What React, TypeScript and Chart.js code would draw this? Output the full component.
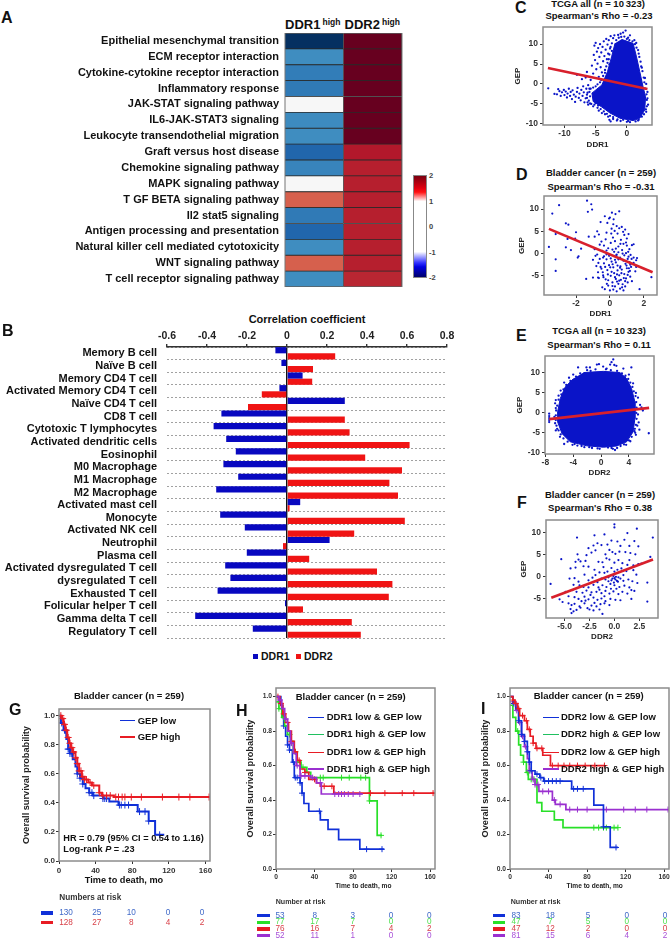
import React, { useEffect, useRef } from "react";
import { Chart, registerables } from "chart.js";

Chart.register(...registerables);

const FONT = '"Liberation Sans", Arial, sans-serif';

// ---------- Panel A ----------
const pathways = ["Epithelial mesenchymal transition","ECM receptor interaction","Cytokine-cytokine receptor interaction","Inflammatory response","JAK-STAT signaling pathway","IL6-JAK-STAT3 signaling","Leukocyte transendothelial migration","Graft versus host disease","Chemokine signaling pathway","MAPK signaling pathway","T GF BETA signaling pathway","Il2 stat5 signaling","Antigen processing and presentation","Natural killer cell mediated cytotoxicity","WNT signaling pathway","T cell receptor signaling pathway"];
const heatDDR1 = [-2, -1.25, -1.4, -1.42, 0, -1.27, -1.25, -1.6, -1.33, 0, 1.2, -1.42, -1.6, -1.25, 1.2, -1.25];
const heatDDR2 = [2, 2, 2, 2, 2, 2, 2, 1.6, 1.56, 1.56, 1.56, 1.56, 1.56, 1.56, 1.56, 1.52];
const heatStops = ["#053061","#2166ac","#4393c3","#92c5de","#d1e5f0","#f7f7f7","#fddbc7","#f4a582","#d6604d","#b2182b","#67001f"];

// ---------- Panel B ----------
const cellTypes = ["Memory B cell","Naïve B cell","Memory CD4 T cell","Activated Memory CD4 T cell","Naïve CD4 T cell","CD8 T cell","Cytotoxic T lymphocytes","Activated dendritic cells","Eosinophil","M0 Macrophage","M1 Macrophage","M2 Macrophage","Activated mast cell","Monocyte","Activated NK cell","Neutrophil","Plasma cell","Activated dysregulated T cell","dysregulated T cell","Exhausted T cell","Folicular helper T cell","Gamma delta T cell","Regulatory T cell"];
const corrDDR1 = [-0.058,-0.028,0.078,-0.038,0.289,-0.328,-0.367,-0.304,-0.256,-0.318,-0.244,-0.354,0.066,-0.334,-0.211,0.213,-0.201,-0.309,-0.283,-0.347,-0.01,-0.459,-0.171];
const corrDDR2 = [0.241,0.13,0.126,-0.126,-0.195,0.289,0.313,0.613,0.391,0.575,0.512,0.555,0.013,0.589,0.336,-0.02,0.111,0.45,0.527,0.509,0.08,0.324,0.369];
const corrTicks = [-0.6,-0.4,-0.2,0,0.2,0.4,0.6,0.8];

// ---------- Panels C-F ----------
const cDense = [[-0.85,11.2],[1.0,10.2],[1.55,6.8],[2.07,3.1],[2.6,-0.7],[3.0,-3.2],[2.87,-6.5],[2.07,-8.6],[1.0,-9.2],[-1.1,-8.6],[-2.7,-7.3],[-4.0,-5.8],[-5.4,-4.4],[-5.6,-2.3],[-4.0,-0.25],[-3.1,3.1],[-2.45,6.8],[-1.9,10.2]];
const cPoints = [[-12.6,-1.1],[-11.6,-2.5],[-11.2,-2.6],[-11.0,-1.3],[-10.8,-1.8],[-10.6,-3.0],[-10.4,-2.1],[-10.1,-1.5],[-10.0,-2.8],[-9.8,-1.9],[-9.6,-3.4],[-9.5,-2.4],[-9.3,-1.2],[-9.1,-3.0],[-9.0,-2.0],[-8.8,-3.8],[-8.7,-1.6],[-8.5,-2.7],[-8.3,-4.5],[-8.2,-3.2],[-8.0,-2.0],[-7.9,-1.0],[-7.7,-3.5],[-7.6,-2.4],[-7.4,-4.1],[-7.3,-1.5],[-7.1,-3.0],[-7.0,-0.6],[-6.9,-2.1],[-6.8,-4.6],[-6.6,-3.6],[-6.5,-1.2],[-6.4,-2.7],[-6.2,-0.3],[-6.1,-4.2],[-6.0,-2.0],[-5.9,-3.1],[-5.8,-1.2],[-5.7,-5.0],[-8.0,2.3],[-7.2,1.2],[-6.6,1.6],[-6.4,3.0],[-5.8,1.0],[-5.6,4.6],[-5.4,2.6],[-5.3,7.3],[-5.2,9.6],[-5.1,6.0],[-5.0,10.3],[-4.9,3.7],[-4.8,8.1],[-4.7,5.1],[-4.6,9.0],[-4.5,1.8],[-4.4,6.8],[-4.3,10.0],[-4.2,4.2],[-4.1,7.9],[-4.0,2.9],[-3.9,9.3],[-3.8,5.7],[-3.7,10.7],[-3.6,7.0],[-3.5,3.5],[-3.4,8.6],[-3.3,11.3],[-3.2,6.2],[-3.1,9.9],[-3.0,7.6],[-2.9,11.0],[-2.8,4.9],[-2.7,8.9],[-2.6,12.0],[-2.4,10.2],[-2.2,11.5],[-2.0,12.2],[-1.7,11.0],[-1.4,12.3],[-1.0,12.6],[-0.6,12.9],[-0.2,13.4],[0.2,11.6],[0.5,12.2],[1.2,11.0],[1.5,10.3],[2.0,6.8],[2.3,4.4],[2.5,3.2],[2.9,1.5],[3.1,0.0],[3.3,-2.0],[3.2,-4.0],[3.4,-5.2],[3.1,-7.0],[-4.5,-6.7],[-4.0,-7.3],[-3.5,-7.6],[-3.0,-8.2],[-2.8,-9.0],[-2.6,-9.4],[-2.2,-8.8],[-1.6,-9.2],[-1.0,-9.3],[0.0,-9.5],[0.5,-9.6],[1.4,-9.4],[-6.2,-5.2],[-5.4,-5.6],[-5.0,-4.8],[-4.6,-5.4],[1.8,8.5],[1.9,7.6],[2.2,5.6],[2.4,4.1],[2.7,1.6],[2.8,0.4],[2.95,-1.2],[3.15,-2.6],[3.3,-3.6],[3.2,-5.6],[3.05,-6.4],[2.75,-7.6],[2.4,-8.2],[1.9,-9.0],[-1.3,11.6],[-0.9,11.8],[-0.4,11.9],[0.0,11.3],[0.4,11.0],[0.9,10.7],[1.3,10.0],[1.55,9.1],[-2.6,9.3],[-2.4,8.3],[-2.8,7.4],[-2.9,6.2],[-3.1,5.3],[-3.3,4.4],[-3.5,2.8],[-3.8,2.0],[-4.1,1.0],[-4.3,0.4],[-4.7,-0.1],[-5.0,-0.6],[-5.4,-0.9],[-6.0,-1.2],[-6.3,-2.2],[-6.4,-3.5],[-6.3,-4.6],[-5.9,-4.9],[-5.2,-5.2],[-4.7,-6.0],[-4.2,-6.3],[-3.7,-6.9],[-3.2,-7.5],[-2.7,-8.0],[-2.2,-8.3],[-1.5,-8.9],[-0.6,-9.0],[0.2,-9.3],[1.8,-9.2]];
const cTrend = [[-12.65,4.0],[3.3,-1.25]];

const dPoints = [[-1.35,11.9],[-1.1,11.1],[-3.0,10.9],[-3.4,9.0],[-1.3,9.4],[-1.05,9.9],[-2.6,6.8],[-2.45,6.5],[-2.0,4.8],[-3.2,4.4],[-2.5,3.3],[-2.05,3.4],[-1.25,3.8],[-3.6,1.5],[-2.6,1.4],[-2.3,0.8],[-1.7,1.1],[-3.2,-1.3],[-1.85,-0.6],[-1.9,-0.9],[-3.2,-3.9],[-1.4,-5.7],[-1.0,-5.4],[2.45,-5.3],[1.75,-8.0],[-0.7,-5.4],[-0.9,3.8],[-0.75,5.0],[-0.6,2.0],[-0.55,7.1],[-0.45,0.6],[-0.35,-0.6],[-0.3,8.4],[-0.25,3.2],[-0.15,6.9],[-0.1,1.2],[-0.05,7.9],[0.0,8.1],[0.05,-1.1],[0.1,5.6],[0.12,9.2],[0.18,3.6],[0.22,7.7],[0.25,0.4],[0.3,2.8],[0.33,8.9],[0.38,-0.4],[0.4,6.2],[0.45,4.5],[0.5,1.6],[0.55,5.7],[0.6,-0.9],[0.55,9.5],[0.65,3.1],[0.72,0.8],[0.8,2.2],[0.85,4.2],[0.9,5.4],[0.95,0.1],[1.0,3.4],[1.05,-1.2],[1.1,4.4],[1.15,1.0],[1.3,1.9],[1.4,-0.9],[1.4,2.1],[1.55,-1.5],[-1.0,-1.4],[-0.85,-0.5],[-0.8,-2.8],[-0.7,-4.2],[-0.65,-5.5],[-0.6,-1.2],[-0.5,-3.4],[-0.45,-7.6],[-0.4,-4.9],[-0.35,-2.2],[-0.3,-8.0],[-0.25,-5.8],[-0.2,-0.2],[-0.15,-3.7],[-0.1,-7.2],[-0.05,-2.6],[0.0,-8.3],[0.05,-5.0],[0.1,-1.8],[0.15,-6.5],[0.2,-3.1],[0.2,-8.1],[0.25,-4.4],[0.3,-7.4],[0.35,-2.0],[0.35,-5.7],[0.4,-8.5],[0.45,-3.8],[0.5,-6.8],[0.5,-1.3],[0.55,-4.9],[0.6,-7.9],[0.62,-2.9],[0.65,-5.9],[0.7,-3.6],[0.75,-6.9],[0.8,-1.6],[0.8,-8.3],[0.85,-4.6],[0.9,-7.4],[0.92,-2.3],[0.95,-5.6],[1.0,-3.3],[1.05,-6.5],[1.1,-4.1],[1.15,-1.9],[1.2,-5.2],[1.25,-3.0],[1.3,-6.2],[1.4,-2.1],[1.5,-4.0],[1.6,-1.0],[1.55,-3.0],[1.1,-0.7],[0.75,0.0],[0.4,-0.2],[-0.65,4.3],[-0.2,4.7],[0.05,2.4],[0.28,5.1],[0.7,6.0],[1.0,1.8],[-0.4,-0.9],[0.15,0.9],[-0.55,-3.0],[-0.2,-1.3],[0.45,-2.7],[0.85,-0.4],[1.2,-2.5],[0.1,-4.1],[0.6,-3.2],[1.05,-4.8],[-0.1,-6.0],[0.3,-5.3],[-0.9,1.0],[-0.75,-0.2],[-0.5,2.7],[-0.35,1.8],[-0.2,0.7],[-0.05,-0.5],[0.08,4.5],[0.2,6.6],[0.35,1.1],[0.5,0.3],[0.62,2.2],[0.78,4.9],[0.95,2.5],[1.08,0.4],[1.22,-0.3],[-0.68,-2.1],[-0.42,-4.2],[-0.28,-3.0],[-0.12,-4.7],[0.02,-3.1],[0.16,-2.4],[0.3,-1.4],[0.42,-4.7],[0.55,-6.1],[0.68,-4.4],[0.82,-5.5],[0.98,-2.7],[1.12,-3.3],[1.28,-1.2],[0.72,-7.6],[0.42,-6.3],[0.15,-7.3],[-0.18,-6.8],[-0.38,-5.3],[0.9,-6.2],[1.18,-3.9]];
const dTrend = [[-3.6,5.57],[2.52,-4.2]];

const eDense = [[-2.52,10.1],[0.33,10.4],[2.7,10.1],[3.67,8.6],[4.38,6.1],[4.86,2.75],[4.86,-1.4],[4.6,-4.75],[3.67,-7.25],[2.24,-8.3],[0.33,-8.6],[-2.05,-8.25],[-4.43,-7.25],[-5.6,-5.2],[-6.24,-2.25],[-6.24,0.25],[-5.86,3.6],[-5.14,6.5],[-3.95,8.6]];
const ePoints = [[-7.45,-0.2],[-7.45,-0.8],[-7.45,-1.3],[-7.45,-1.8],[-7.45,-2.3],[-6.5,3.2],[-6.6,2.4],[-6.5,1.2],[-6.7,-1.0],[-6.6,-2.6],[-6.5,-4.4],[-6.1,4.3],[-5.8,5.6],[-5.3,7.6],[-4.6,8.8],[-4.0,9.6],[-3.3,11.4],[-2.1,11.4],[-1.6,11.4],[-0.6,12.1],[-0.3,12.2],[0.3,11.6],[0.8,11.1],[1.3,12.1],[1.5,12.7],[1.75,13.4],[1.9,12.0],[2.2,11.8],[3.2,11.1],[4.35,11.4],[4.0,9.6],[4.6,7.4],[5.0,5.0],[5.3,3.8],[5.6,2.0],[5.8,1.4],[6.0,0.6],[5.3,-0.4],[5.4,-2.4],[5.2,-3.2],[5.5,-4.2],[4.9,-5.0],[5.0,-5.5],[4.8,-4.6],[6.85,-5.1],[4.2,-7.1],[3.6,-8.0],[2.3,-8.8],[2.0,-9.3],[1.7,-9.0],[1.0,-8.7],[-0.5,-8.9],[-1.3,-8.8],[-2.4,-8.6],[-3.4,-8.2],[-4.1,-8.0],[-5.3,-7.8],[-5.9,-6.0],[-6.3,-4.0],[-2.0,10.7],[-1.5,10.5],[-0.8,10.9],[0.7,10.9],[1.4,10.7],[2.3,10.5],[3.0,9.9],[3.5,9.3],[3.9,8.5],[4.2,7.6],[4.5,6.5],[4.7,5.4],[4.95,4.2],[5.05,2.7],[5.1,1.3],[5.05,0.0],[5.1,-1.5],[5.0,-3.0],[4.85,-4.0],[4.4,-6.0],[4.0,-6.9],[3.3,-7.9],[2.8,-8.3],[1.5,-8.8],[-0.2,-9.0],[-1.7,-8.6],[-2.8,-8.3],[-3.8,-7.8],[-4.8,-7.2],[-5.4,-6.4],[-5.8,-5.4],[-6.1,-4.4],[-6.4,-3.2],[-6.5,-1.8],[-6.5,-0.6],[-6.45,0.6],[-6.3,1.8],[-6.1,3.3],[-5.7,4.6],[-5.4,5.9],[-5.0,7.0],[-4.4,8.0],[-3.6,9.1],[-3.0,9.9]];
const eTrend = [[-7.43,-1.57],[6.9,1.25]];

const fPoints = [[0.0,11.9],[0.0,11.2],[2.25,10.9],[-3.75,8.9],[3.85,8.9],[1.3,9.9],[-2.0,9.4],[-1.0,9.6],[-6.4,-1.6],[-5.33,4.0],[3.3,-5.6],[3.3,-1.3],[3.6,4.5],[2.0,8.1],[1.0,8.4],[0.3,8.0],[-0.3,8.2],[-1.7,7.6],[-2.6,6.5],[-2.1,7.1],[-1.3,7.2],[-0.7,7.3],[0.6,7.0],[1.5,7.0],[2.4,6.9],[-2.8,4.9],[-2.3,5.5],[-1.9,6.0],[-0.9,5.1],[-0.5,6.1],[-0.2,5.6],[0.1,5.2],[0.5,5.7],[1.1,5.6],[1.6,5.4],[2.1,5.1],[-3.7,5.1],[-3.6,3.9],[-3.9,3.4],[-3.4,3.5],[-2.9,3.6],[-1.6,3.4],[-1.2,3.3],[-0.8,4.2],[-0.5,3.9],[0.0,3.2],[0.4,3.8],[0.8,3.1],[1.3,2.7],[1.5,3.8],[1.9,2.6],[2.4,2.9],[2.7,3.0],[-4.4,1.9],[-3.9,2.1],[-3.1,2.4],[-2.6,2.3],[-2.0,1.6],[-1.5,1.0],[-1.0,0.9],[-0.7,1.2],[-0.3,2.0],[0.0,1.2],[0.3,1.6],[0.7,1.9],[1.2,1.3],[1.9,1.5],[2.2,0.5],[-4.5,-0.4],[-4.0,-0.3],[-3.6,-1.1],[-3.0,0.5],[-2.6,-0.8],[-2.2,-0.2],[-1.7,-1.2],[-1.3,-0.4],[-0.9,-0.6],[-0.6,-0.1],[-0.3,-0.8],[-0.1,0.2],[0.1,-0.6],[0.35,-1.1],[0.6,-0.4],[0.9,-0.9],[1.4,-0.6],[1.8,-1.0],[2.3,-1.4],[-4.1,-1.8],[-3.5,-1.9],[-3.1,-2.3],[-2.6,-2.4],[-2.1,-1.8],[-1.6,-2.4],[-1.2,-1.9],[-0.8,-2.3],[-0.4,-1.6],[0.0,-1.9],[0.5,-2.3],[1.0,-2.0],[1.5,-2.4],[2.0,-3.2],[-4.9,-3.4],[-4.2,-3.0],[-3.8,-3.4],[-3.2,-3.6],[-2.8,-3.1],[-2.3,-3.5],[-1.8,-3.4],[-1.3,-3.7],[-0.9,-3.2],[-0.5,-3.8],[-0.1,-3.3],[0.4,-3.9],[0.8,-3.4],[1.3,-3.8],[1.7,-3.0],[-5.5,-5.1],[-5.2,-5.7],[-4.6,-4.4],[-4.0,-4.6],[-3.6,-5.0],[-3.0,-4.5],[-2.6,-5.1],[-2.1,-4.7],[-1.7,-5.2],[-1.3,-4.9],[-0.9,-5.5],[-0.4,-5.0],[0.1,-5.2],[0.6,-5.3],[1.7,-5.0],[-4.6,-6.0],[-4.3,-6.4],[-4.0,-6.1],[-3.5,-6.7],[-3.0,-6.0],[-2.7,-7.1],[-2.3,-6.5],[-1.8,-6.7],[-1.4,-6.2],[-1.0,-6.0],[-0.5,-6.4],[-4.4,-7.3],[-4.1,-7.8],[-3.8,-7.5],[-3.4,-7.0],[-2.5,-7.4],[-2.1,-7.6],[-1.5,-7.4],[-1.2,-8.4],[-4.3,-8.2],[-0.6,-1.0],[-0.2,-0.4],[0.15,0.0],[0.25,-0.9],[-0.05,-1.3],[0.4,-0.1],[0.0,-0.3],[-0.35,-2.7],[-1.5,-2.9],[-2.4,-4.1],[-1.0,-4.4],[-2.9,-5.4],[-2.0,-5.9],[-3.3,-5.5],[-1.1,2.2],[0.9,0.4],[0.2,-2.7],[-1.9,0.4]];
const fTrend = [[-6.33,-4.74],[3.87,3.93]];

// ---------- Panels G-I (time in months, survival probability) ----------
const gLow = [[0,1],[2,0.95],[5,0.9],[8,0.84],[10,0.77],[12,0.74],[15,0.7],[18,0.65],[20,0.6],[23,0.57],[26,0.53],[29,0.5],[33,0.47],[37,0.45],[48,0.43],[55,0.41],[65,0.385],[86,0.34],[98,0.275],[105,0.18],[115,0.18]];
const gHigh = [[0,1],[3,0.98],[5,0.94],[7,0.9],[9,0.85],[11,0.81],[13,0.78],[15,0.75],[18,0.71],[20,0.67],[22,0.62],[25,0.58],[28,0.56],[32,0.54],[36,0.52],[44,0.47],[47,0.45],[60,0.44],[165,0.44]];
const gLowCens = [3,6,7,10,11,12,14,20,23,26,33,36,38,48,50,52,66,68,72,76,88,94,98,110];
const gHighCens = [2,4,6,8,10,12,14,16,18,20,22,24,26,28,30,34,38,44,48,52,56,62,65,69,72,79,90,113,131,143,164];

const hLL = [[0,1],[5,0.95],[7,0.88],[8,0.83],[10,0.77],[12,0.72],[14,0.69],[17,0.62],[19,0.53],[25,0.5],[27,0.44],[29,0.38],[34,0.335],[46,0.285],[54,0.23],[65,0.17],[87,0.115],[112,0.115]];
const hHL = [[0,0.97],[3,0.93],[6,0.88],[9,0.83],[12,0.78],[15,0.74],[18,0.68],[22,0.62],[26,0.59],[32,0.56],[36,0.53],[97,0.395],[105,0.195],[110,0.195]];
const hLH = [[0,1],[4,0.96],[7,0.9],[10,0.85],[13,0.8],[16,0.74],[19,0.68],[22,0.63],[25,0.58],[30,0.56],[34,0.52],[42,0.5],[46,0.48],[60,0.44],[165,0.44]];
const hHH = [[0,1],[3,0.98],[6,0.93],[9,0.87],[12,0.8],[15,0.73],[18,0.67],[21,0.6],[25,0.54],[36,0.53],[42,0.5],[47,0.435],[90,0.435]];
const hLLCens = [8,12,14,18,20,22,25,27,45,94,110];
const hHLCens = [3,8,14,20,28,46,49,68,76,88,93,97,109];
const hLHCens = [2,5,8,12,16,20,24,30,40,50,58,98,113,131,143,163];
const hHHCens = [4,10,16,22,26,30,38,46,61,65,68,71,75,80,87];

const iLL = [[0,1],[3,0.96],[6,0.93],[9,0.86],[12,0.78],[15,0.74],[18,0.68],[20,0.62],[22,0.57],[26,0.55],[31,0.53],[35,0.51],[64,0.465],[87,0.37],[97,0.245],[104,0.125],[112,0.125]];
const iHL = [[0,0.95],[3,0.88],[6,0.8],[9,0.72],[11,0.66],[14,0.62],[17,0.56],[19,0.52],[28,0.385],[33,0.335],[46,0.285],[55,0.24],[112,0.24]];
const iLH = [[0,1],[3,0.98],[5,0.96],[8,0.93],[10,0.89],[15,0.86],[18,0.81],[21,0.77],[24,0.73],[27,0.7],[34,0.66],[42,0.6],[98,0.6]];
const iHH = [[0,1],[3,0.97],[6,0.92],[9,0.85],[12,0.77],[15,0.71],[18,0.64],[20,0.57],[23,0.52],[26,0.49],[30,0.45],[44,0.4],[47,0.375],[58,0.345],[165,0.345]];
const iLLCens = [4,9,12,15,18,20,22,28,32,36,40,44,48,52,66,70,76,97,110];
const iHLCens = [8,14,18,22,25,87,92,97,100,108,112];
const iLHCens = [3,6,9,13,17,20,24,28,33,44,50,56,62,70,78,88,98];
const iHHCens = [3,7,10,13,16,20,24,26,29,34,40,46,52,62,70,80,100,118,130,142,164];

const kmMonths = [0,40,80,120,160];
const kmProb = [0,0.2,0.4,0.6,0.8,1];

const riskG = [[130,25,10,0,0],[128,27,8,4,2]];
const riskH = [[53,8,3,0,0],[77,17,7,0,0],[76,16,7,4,2],[52,11,1,0,0]];
const riskI = [[83,18,5,0,0],[47,7,5,0,0],[47,12,2,0,0],[81,15,6,4,2]];

// ---------- Colours ----------
const BLUE = "#0a14c8";
const REDBAR = "#f01414";
const KM = { blue: "#1030d8", green: "#28e028", red: "#e81c24", purple: "#9a30d0" };
const RISK = { blue: "#3f68c8", green: "#50e050", red: "#d84048", purple: "#a850d8" };
const FRAME = "#8c8c8c";
const TREND = "#d8202c";

function heatColor(v: number) {
  const p = ((v + 2) / 4) * (heatStops.length - 1);
  const i = Math.min(heatStops.length - 2, Math.floor(p));
  const f = p - i;
  const rgb = (h: string) => [1, 3, 5].map((k) => parseInt(h.slice(k, k + 2), 16));
  const a = rgb(heatStops[i]);
  const b = rgb(heatStops[i + 1]);
  return `rgb(${a.map((c, k) => Math.round(c + (b[k] - c) * f)).join(",")})`;
}

const framePlugin = {
  id: "frame",
  afterDatasetsDraw(chart: any, _a: any, o: any) {
    if (!o || !o.color) return;
    const { left, top, width, height } = chart.chartArea;
    const c = chart.ctx;
    c.save();
    c.strokeStyle = o.color;
    c.lineWidth = o.width || 1.5;
    c.strokeRect(left, top, width, height);
    c.restore();
  },
};

type Box = { l: number; t: number; r: number; b: number; mL: number; mT: number; mR: number; mB: number; pT?: number; pB?: number };

function noPad(s: any) {
  s.paddingTop = 0; s.paddingBottom = 0; s.paddingLeft = 0; s.paddingRight = 0;
}

function linAxis(a: any) {
  return {
    type: "linear",
    min: a.min,
    max: a.max,
    afterBuildTicks: (s: any) => { s.ticks = a.ticks.map((v: number) => ({ value: v })); },
    afterFit: (s: any) => { if (a.vertical) s.width = a.forced; else s.height = a.forced; noPad(s); },
    grid: { drawOnChartArea: false, drawTicks: true, tickLength: 3, color: "#333", lineWidth: 1 },
    border: { display: false },
    ticks: { autoSkip: false, maxRotation: 0, padding: a.pad, color: "#333", font: { family: FONT, size: a.size, weight: "bold" }, callback: a.fmt || ((v: number) => String(v)) },
    title: a.title ? { display: true, text: a.title, color: "#222", padding: 0, font: { family: FONT, size: a.titleSize, weight: "bold" } } : { display: false },
  };
}

function baseOpts(box: Box, scales: any, frame: any) {
  return {
    responsive: false,
    animation: false,
    maintainAspectRatio: false,
    layout: { autoPadding: false, padding: { left: 0, top: box.pT ?? box.mT, right: box.mR, bottom: box.pB ?? 0 } },
    plugins: { legend: { display: false }, tooltip: { enabled: false }, title: { display: false }, frame },
    scales,
  };
}

const toXY = (arr: number[][]) => arr.map(([x, y]) => ({ x, y }));

function scatterPanel(box: Box, spec: any) {
  const ds: any[] = [
    { data: toXY(spec.trend), showLine: true, borderColor: TREND, borderWidth: 2.6, pointRadius: 0 },
    { data: toXY(spec.points), showLine: false, backgroundColor: BLUE, borderWidth: 0, pointRadius: spec.r },
  ];
  if (spec.dense) {
    ds.push({ data: toXY(spec.dense), showLine: true, borderColor: BLUE, borderWidth: 1, pointRadius: 0, fill: "shape", backgroundColor: BLUE });
  }
  return {
    box,
    cfg: {
      type: "scatter",
      data: { datasets: ds },
      options: baseOpts(box, {
        x: linAxis({ min: spec.x[0], max: spec.x[1], ticks: spec.xTicks, size: 8.5, pad: 1, forced: box.mB, title: spec.xTitle, titleSize: 8, fmt: spec.xFmt }),
        y: linAxis({ min: spec.y[0], max: spec.y[1], ticks: spec.yTicks, size: 8.5, pad: 2, forced: box.mL, vertical: true, title: "GEP", titleSize: 8 }),
      }, { color: FRAME, width: 1.5 }),
    },
  };
}

function survAt(curve: number[][], t: number) {
  let s = curve[0][1];
  for (const [ct, cs] of curve) if (ct <= t) s = cs;
  return s;
}

function kmPanel(box: Box, series: any[], tickSize: number, pad: number, crossR: number, yMax: number, lineW: number) {
  const ds: any[] = [];
  series.forEach((s) => {
    ds.push({ data: s.cens.map((t: number) => ({ x: t, y: survAt(s.curve, t) })), showLine: false, pointStyle: "cross", pointRadius: crossR, borderColor: s.color, borderWidth: 1, backgroundColor: s.color });
    ds.push({ data: toXY(s.curve), showLine: true, stepped: true, borderColor: s.color, borderWidth: lineW, pointRadius: 0 });
  });
  return {
    box,
    cfg: {
      type: "scatter",
      data: { datasets: ds },
      options: baseOpts(box, {
        x: linAxis({ min: 0, max: 165, ticks: kmMonths, size: tickSize, pad, forced: box.mB }),
        y: linAxis({ min: 0, max: yMax, ticks: kmProb, size: tickSize, pad: 1, forced: box.mL, vertical: true, title: "Overall survival probability", titleSize: 9.2, fmt: (v: number) => v.toFixed(1) }),
      }, { color: FRAME, width: 1.5 }),
    },
  };
}

const heatBox: Box = { l: 285, t: 33, r: 402, b: 287, mL: 285, mT: 0, mR: 2, mB: 0 };
const heatPanel = {
  box: heatBox,
  cfg: {
    type: "bar",
    data: {
      labels: pathways,
      datasets: [
        { label: "DDR1", data: pathways.map(() => [0, 1]), backgroundColor: heatDDR1.map(heatColor), borderColor: "#2a2a2a", borderWidth: 0.8, grouped: false, barPercentage: 1, categoryPercentage: 1 },
        { label: "DDR2", data: pathways.map(() => [1, 2]), backgroundColor: heatDDR2.map(heatColor), borderColor: "#2a2a2a", borderWidth: 0.8, grouped: false, barPercentage: 1, categoryPercentage: 1 },
      ],
    },
    options: {
      ...baseOpts(heatBox, {
        x: { type: "linear", min: 0, max: 2, display: false },
        y: { type: "category", afterFit: (s: any) => { s.width = 285; noPad(s); }, grid: { display: false, drawTicks: false }, border: { display: false }, ticks: { autoSkip: false, padding: 6, color: "#111", font: { family: FONT, size: 11, weight: "bold" } } },
      }, { color: "#777", width: 1 }),
      indexAxis: "y",
    },
  },
};

const barBox: Box = { l: 167, t: 347, r: 447, b: 638, mL: 167, mT: 22, mR: 10, mB: 2, pT: 0, pB: 2 };
const barPanel = {
  box: barBox,
  cfg: {
    type: "bar",
    data: {
      labels: cellTypes,
      datasets: [
        { label: "DDR1", data: corrDDR1, backgroundColor: "#0808c0", barPercentage: 1, categoryPercentage: 0.98 },
        { label: "DDR2", data: corrDDR2, backgroundColor: REDBAR, barPercentage: 1, categoryPercentage: 0.98 },
      ],
    },
    options: {
      ...baseOpts(barBox, {
        x: {
          type: "linear", position: "top", min: -0.6, max: 0.8,
          afterBuildTicks: (s: any) => { s.ticks = corrTicks.map((v) => ({ value: v })); },
          afterFit: (s: any) => { s.height = 22; noPad(s); },
          grid: {
            drawTicks: true, tickLength: 3, tickColor: "#333",
            color: (c: any) => (c.tick && c.tick.value === 0 ? "#111" : "rgba(0,0,0,0)"),
            lineWidth: 1.4,
          },
          border: { display: true, color: "#333", width: 1.5 },
          ticks: { autoSkip: false, maxRotation: 0, padding: 2, color: "#222", font: { family: FONT, size: 10.5, weight: "bold" }, callback: (v: number) => (v === 0 ? "0" : v.toFixed(1)) },
        },
        y: {
          type: "category",
          afterFit: (s: any) => { s.width = 167; noPad(s); },
          grid: { drawTicks: false, color: "#8a8a8a", lineWidth: 0.8, offset: true },
          border: { display: false, dash: [2, 2] },
          ticks: { autoSkip: false, padding: 10, color: "#111", font: { family: FONT, size: 11, weight: "bold" } },
        },
      }, null),
      indexAxis: "y",
    },
  },
};

const panels = [
  heatPanel,
  barPanel,
  scatterPanel({ l: 543, t: 27, r: 652, b: 125, mL: 30, mT: 2, mR: 8, mB: 25 }, { x: [-13.44, 4.03], y: [-10.3, 14.3], xTicks: [-10, -5, 0], yTicks: [-10, -5, 0, 5, 10], xTitle: "DDR1", points: cPoints, dense: cDense, trend: cTrend, r: 1.15 }),
  scatterPanel({ l: 544, t: 196, r: 657, b: 295, mL: 27, mT: 2, mR: 8, mB: 24 }, { x: [-3.89, 2.78], y: [-9.32, 12.96], xTicks: [-2, 0, 2], yTicks: [-5, 0, 5, 10], xTitle: "DDR1", points: dPoints, trend: dTrend, r: 1.1 }),
  scatterPanel({ l: 545, t: 356, r: 654, b: 454, mL: 30, mT: 2, mR: 8, mB: 24 }, { x: [-8.05, 7.6], y: [-10.3, 14.25], xTicks: [-8, -4, 0, 4], yTicks: [-10, -5, 0, 5, 10], xTitle: "DDR2", points: ePoints, dense: eDense, trend: eTrend, r: 1.15 }),
  scatterPanel({ l: 546, t: 520, r: 658, b: 618, mL: 27, mT: 2, mR: 8, mB: 24 }, { x: [-6.86, 4.37], y: [-9.32, 12.87], xTicks: [-5, -2.5, 0, 2.5], yTicks: [-5, 0, 5, 10], xTitle: "DDR2", xFmt: (v: number) => v.toFixed(1), points: fPoints, trend: fTrend, r: 1.1 }),
  kmPanel({ l: 59, t: 709, r: 210, b: 861, mL: 38, mT: 2, mR: 8, mB: 16 }, [
    { curve: gHigh, cens: gHighCens, color: KM.red },
    { curve: gLow, cens: gLowCens, color: KM.blue },
  ], 8, 2, 3.5, 1.046, 2),
  kmPanel({ l: 276, t: 688, r: 435, b: 869, mL: 31, mT: 2, mR: 8, mB: 14 }, [
    { curve: hHH, cens: hHHCens, color: KM.purple },
    { curve: hLH, cens: hLHCens, color: KM.red },
    { curve: hHL, cens: hHLCens, color: KM.green },
    { curve: hLL, cens: hLLCens, color: KM.blue },
  ], 6.7, 1, 3, 1.05, 1.7),
  kmPanel({ l: 510, t: 688, r: 669, b: 869, mL: 30, mT: 2, mR: 2, mB: 14 }, [
    { curve: iLH, cens: iLHCens, color: KM.red },
    { curve: iLL, cens: iLLCens, color: KM.blue },
    { curve: iHH, cens: iHHCens, color: KM.purple },
    { curve: iHL, cens: iHLCens, color: KM.green },
  ], 6.7, 1, 3, 1.05, 1.7),
];

function Txt({ x, y, a = "l", size = 9.5, bold = true, color = "#111", children }: any) {
  const tx = a === "c" ? "-50%" : a === "r" ? "-100%" : "0";
  return (
    <div style={{ position: "absolute", left: x, top: y, transform: `translate(${tx},-50%)`, fontFamily: FONT, fontSize: size, fontWeight: bold ? 700 : 400, color, whiteSpace: "nowrap", lineHeight: 1 }}>
      {children}
    </div>
  );
}

function Rect({ x, y, w, h, c }: any) {
  return <div style={{ position: "absolute", left: x, top: y, width: w, height: h, background: c }} />;
}

function KmLegend({ x0, x1, tx, items, size = 9.5 }: any) {
  return (
    <>
      {items.map((it: any, i: number) => (
        <React.Fragment key={i}>
          <Rect x={x0} y={it.y - 0.75} w={x1 - x0} h={1.5} c={it.c} />
          <Txt x={tx} y={it.y} size={size}>{it.t}</Txt>
        </React.Fragment>
      ))}
    </>
  );
}

function RiskTable({ rows, cols, ys, colors, sw, size = 8.2, swH = 3.5 }: any) {
  return (
    <>
      {rows.map((r: number[], i: number) => (
        <React.Fragment key={i}>
          <Rect x={sw[0]} y={ys[i] - swH / 2} w={sw[1] - sw[0]} h={swH} c={sw[2][i]} />
          {r.map((v, j) => (
            <Txt key={j} x={cols[j]} y={ys[i]} a="c" size={size} bold={false} color={colors[i]}>{v}</Txt>
          ))}
        </React.Fragment>
      ))}
    </>
  );
}

const heatTickLabels = [[2, 176], [1, 201.5], [0, 226.5], [-1, 252.5], [-2, 278]];

export default function App() {
  const refs = useRef<(HTMLCanvasElement | null)[]>([]);
  useEffect(() => {
    const charts = panels.map((p, i) => new Chart(refs.current[i] as any, { ...(p.cfg as any), plugins: [framePlugin] }));
    return () => charts.forEach((c) => c.destroy());
  }, []);

  const fourColors = [RISK.blue, RISK.green, RISK.red, RISK.purple];
  const fourSw = [KM.blue, KM.green, KM.red, KM.purple];
  const fourYs = [915.7, 922.3, 929, 935.7];

  return (
    <div style={{ position: "absolute", left: 0, top: 0, width: 671, height: 939, background: "#fff", overflow: "hidden" }}>
      {panels.map((p, i) => {
        const b = p.box;
        const w = b.r - b.l + b.mL + b.mR;
        const h = b.b - b.t + b.mT + b.mB;
        return <canvas key={i} ref={(el) => { refs.current[i] = el; }} width={w} height={h} style={{ position: "absolute", left: b.l - b.mL, top: b.t - b.mT, width: w, height: h }} />;
      })}

      <Txt x={1} y={18} size={16}>A</Txt>
      <Txt x={2} y={331} size={16}>B</Txt>
      <Txt x={515} y={8} size={16}>C</Txt>
      <Txt x={516} y={175} size={16}>D</Txt>
      <Txt x={516} y={336} size={16}>E</Txt>
      <Txt x={517} y={503} size={16}>F</Txt>
      <Txt x={9} y={710} size={16}>G</Txt>
      <Txt x={236} y={711} size={16}>H</Txt>
      <Txt x={481} y={709} size={16}>I</Txt>

      <Txt x={285} y={24} size={13}>DDR1</Txt>
      <Txt x={322.5} y={21.5} size={8.5}>high</Txt>
      <Txt x={344.5} y={24} size={13}>DDR2</Txt>
      <Txt x={382} y={21.5} size={8.5}>high</Txt>

      <div style={{ position: "absolute", left: 413, top: 175, width: 12, height: 101, border: "0.5px solid #888", background: "linear-gradient(to bottom,#7a0010 0%,#e00010 12%,#ff1010 16%,#ffffff 25%,#ffffff 75%,#3030ff 86%,#0000e0 90%,#00006a 100%)" }} />
      {heatTickLabels.map(([v, y]) => (
        <Txt key={v} x={429} y={y} size={7.5} color="#444">{v}</Txt>
      ))}

      <Txt x={307} y={319} a="c" size={11}>Correlation coefficient</Txt>
      <Rect x={253} y={653.5} w={5} h={5} c="#0808c0" />
      <Txt x={261} y={656} size={10.5}>DDR1</Txt>
      <Rect x={296} y={653.5} w={5} h={5} c={REDBAR} />
      <Txt x={304} y={656} size={10.5}>DDR2</Txt>

      <Txt x={598} y={4} a="c">TCGA all (n = 10{"\u2009"}323)</Txt>
      <Txt x={599} y={15.5} a="c">Spearman's Rho = -0.23</Txt>
      <Txt x={601} y={173} a="c">Bladder cancer (n = 259)</Txt>
      <Txt x={601} y={187} a="c">Spearman's Rho = -0.31</Txt>
      <Txt x={599} y={331} a="c">TCGA all (n = 10{"\u2009"}323)</Txt>
      <Txt x={599} y={344.5} a="c">Spearman's Rho = 0.11</Txt>
      <Txt x={600} y={495} a="c">Bladder cancer (n = 259)</Txt>
      <Txt x={600} y={508} a="c">Spearman's Rho = 0.38</Txt>

      <Txt x={129} y={696} a="c">Bladder cancer (n = 259)</Txt>
      <KmLegend x0={120} x1={135} tx={137.7} items={[{ y: 720.7, c: KM.blue, t: "GEP low" }, { y: 737, c: KM.red, t: "GEP high" }]} />
      <Txt x={63.3} y={838.7} size={9.2}>HR = 0.79 (95% CI = 0.54 to 1.16)</Txt>
      <Txt x={63.3} y={850} size={9.2}>Log-rank <i>P</i> = .23</Txt>
      <Txt x={124} y={881.3} a="c" size={9.2}>Time to death, mo</Txt>
      <Txt x={59.3} y={897.7} size={8.2} color="#333">Numbers at risk</Txt>
      <RiskTable rows={riskG} cols={[66, 96.7, 131.3, 168, 202]} ys={[913, 922.7]} colors={[RISK.blue, RISK.red]} sw={[40.7, 53, [KM.blue, KM.red]]} />

      <Txt x={350.7} y={696.7} a="c">Bladder cancer (n = 259)</Txt>
      <KmLegend x0={308.3} x1={324} tx={326.7} items={[{ y: 717.3, c: KM.blue, t: "DDR1 low & GEP low" }, { y: 734.3, c: "#20c060", t: "DDR1 high & GEP low" }, { y: 752.3, c: KM.red, t: "DDR1 low & GEP high" }, { y: 769, c: KM.purple, t: "DDR1 high & GEP high" }]} />
      <Txt x={363.3} y={886.3} a="c" size={6.6} color="#222">Time to death, mo</Txt>
      <Txt x={275.7} y={902.7} size={7.1} color="#333">Number at risk</Txt>
      <RiskTable rows={riskH} cols={[280, 314.7, 352.7, 391, 429.3]} ys={fourYs} colors={fourColors} sw={[257.3, 269.7, fourSw]} />

      <Txt x={588.7} y={696} a="c">Bladder cancer (n = 259)</Txt>
      <KmLegend x0={543.3} x1={559} tx={561} items={[{ y: 717.3, c: KM.blue, t: "DDR2 low & GEP low" }, { y: 734.3, c: "#20c060", t: "DDR2 high & GEP low" }, { y: 752.3, c: KM.red, t: "DDR2 low & GEP high" }, { y: 769, c: KM.purple, t: "DDR2 high & GEP high" }]} />
      <Txt x={594.7} y={886.3} a="c" size={6.6} color="#222">Time to death, mo</Txt>
      <Txt x={510.7} y={902.7} size={7.1} color="#333">Number at risk</Txt>
      <RiskTable rows={riskI} cols={[516, 550.3, 588, 626.7, 665]} ys={fourYs} colors={fourColors} sw={[492.7, 504.7, fourSw]} />
    </div>
  );
}
